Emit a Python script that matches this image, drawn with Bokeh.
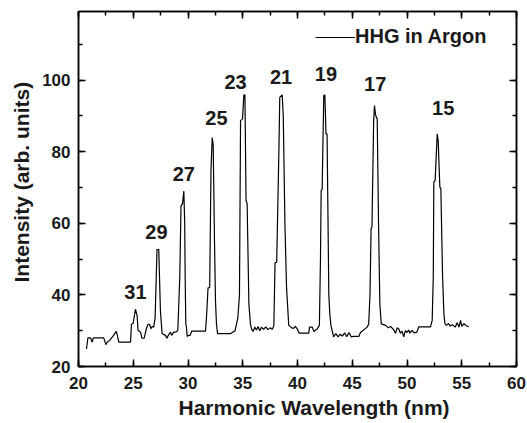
from bokeh.plotting import figure
from bokeh.models import (ColumnDataSource, Range1d, LinearAxis, SingleIntervalTicker,
                          Legend, LegendItem, Title, CustomLabelingPolicy)
from bokeh.core.properties import value
from bokeh.embed import file_html
from bokeh.resources import INLINE

# HHG spectrum in argon: wavelength (nm) vs. intensity (arb. units)
wavelength = [
    20.73, 20.86, 21.10, 21.25, 21.35, 22.30, 22.38, 22.50, 22.62, 22.85,
    23.20, 23.45, 23.55, 23.68, 24.75, 24.84, 24.99, 25.20, 25.35, 25.44,
    25.66, 25.80, 26.00, 26.20, 26.35, 26.50, 26.60, 26.75, 26.87, 27.00,
    27.17, 27.33, 27.48, 27.63, 27.93, 28.08, 28.20, 28.40, 28.50, 28.70,
    28.90, 29.07, 29.25, 29.36, 29.50, 29.62, 29.70, 29.74, 29.80, 29.86,
    29.93, 30.05, 30.20, 30.35, 31.60, 31.70, 31.83, 31.98, 32.10, 32.21,
    32.30, 32.42, 32.51, 32.60, 32.70, 33.90, 34.30, 34.55, 34.70, 34.80,
    34.98, 35.10, 35.20, 35.30, 35.40, 35.56, 35.70, 35.80, 35.95, 36.10,
    36.25, 36.40, 36.55, 36.70, 36.90, 37.10, 37.30, 37.50, 37.70, 37.84,
    37.95, 38.10, 38.30, 38.38, 38.60, 38.70, 38.85, 39.00, 39.20, 39.40,
    39.60, 39.80, 40.00, 40.15, 41.03, 41.10, 41.35, 41.50, 41.65, 41.80,
    42.00, 42.10, 42.16, 42.25, 42.40, 42.50, 42.60, 42.70, 42.86, 42.95,
    43.05, 43.30, 43.50, 43.70, 43.90, 44.10, 44.30, 44.50, 44.70, 44.90,
    45.10, 45.60, 45.75, 46.36, 46.50, 46.62, 46.72, 46.80, 46.95, 47.03,
    47.12, 47.20, 47.28, 47.40, 47.52, 47.65, 48.04, 48.30, 48.50, 48.80,
    48.95, 49.10, 49.25, 49.40, 49.55, 49.70, 49.85, 50.00, 50.15, 50.26,
    50.45, 50.65, 50.90, 51.08, 52.15, 52.30, 52.40, 52.45, 52.57, 52.76,
    52.85, 53.00, 53.09, 53.25, 53.37, 53.47, 53.60, 53.80, 53.95, 54.15,
    54.40, 54.58, 54.75, 54.89, 55.00, 55.20, 55.40, 55.65,
]
intensity = [
    24.9, 28.0, 28.0, 26.8, 28.0, 28.0, 27.3, 26.1, 26.8, 27.3,
    28.7, 29.8, 28.7, 26.8, 26.8, 31.8, 32.0, 36.0, 34.3, 30.1,
    29.6, 27.9, 27.9, 30.6, 31.8, 31.8, 30.6, 31.2, 31.0, 33.8,
    52.7, 52.7, 35.7, 29.2, 28.7, 27.9, 28.7, 29.6, 28.7, 29.6,
    29.6, 30.1, 45.0, 64.9, 65.5, 69.0, 60.0, 45.0, 32.0, 30.9,
    28.4, 28.7, 28.7, 29.9, 29.9, 34.3, 42.0, 42.0, 75.0, 84.0,
    82.0, 55.0, 38.4, 31.9, 29.2, 29.2, 30.0, 33.5, 40.0, 88.7,
    89.2, 95.9, 95.9, 66.4, 65.5, 37.5, 31.9, 30.5, 29.8, 31.0,
    30.2, 31.2, 30.0, 31.0, 30.4, 31.1, 30.3, 30.8, 30.4, 31.4,
    49.0, 49.1, 80.0, 95.2, 95.9, 90.0, 60.0, 42.1, 31.5, 31.0,
    30.6, 31.2, 30.4, 29.3, 29.3, 31.0, 31.0, 29.8, 30.2, 30.5,
    31.5, 50.5, 69.2, 69.5, 95.7, 95.9, 85.0, 85.0, 40.0, 34.7,
    31.5, 28.3, 29.2, 28.3, 29.0, 28.5, 29.4, 28.3, 29.5, 28.3,
    28.4, 28.4, 29.5, 31.0, 31.9, 40.0, 58.5, 59.0, 88.0, 92.9,
    90.5, 89.6, 89.2, 60.0, 37.5, 31.9, 31.5, 30.8, 31.2, 30.2,
    29.3, 30.8, 30.5, 29.3, 29.9, 28.3, 30.0, 29.5, 30.2, 29.3,
    30.1, 29.4, 29.6, 31.1, 31.1, 32.9, 45.0, 71.5, 72.0, 85.0,
    83.0, 70.1, 69.8, 45.0, 34.7, 31.9, 31.5, 32.0, 31.3, 31.7,
    31.0, 32.2, 31.0, 32.9, 31.2, 32.0, 31.4, 31.1,
]

# Harmonic order labels placed above each peak
order_labels = ["31", "29", "27", "25", "23", "21", "19", "17", "15"]
order_x = [25.2, 27.12, 29.62, 32.6, 34.34, 38.5, 42.6, 47.1, 53.3]
order_y = [40.8, 57.5, 73.8, 89.4, 99.4, 100.9, 101.6, 98.9, 92.2]

FONT = "Liberation Sans"
INK = "#1a1a1a"

p = figure(
    frame_width=438, frame_height=355,
    x_range=Range1d(20, 60), y_range=Range1d(20, 119.2),
    output_backend="svg", toolbar_location=None,
    min_border_left=78, min_border_right=11, min_border_top=11, min_border_bottom=0,
)
p.background_fill_color = "white"
p.border_fill_color = "white"
p.grid.visible = False
p.outline_line_color = "black"
p.outline_line_width = 1.5

src = ColumnDataSource(dict(x=wavelength, y=intensity))
line = p.line("x", "y", source=src, line_color="black", line_width=1.2)

lab_src = ColumnDataSource(dict(x=order_x, y=order_y, t=order_labels))
p.text("x", "y", text="t", source=lab_src, text_align="center", text_baseline="middle",
       text_font=value(FONT), text_font_style="bold", text_font_size="20px",
       text_color=INK)

p.xaxis.ticker = SingleIntervalTicker(interval=5, num_minor_ticks=2)
p.yaxis.ticker = SingleIntervalTicker(interval=20, num_minor_ticks=2)


def style_ticks(ax):
    ax.axis_line_width = 1.5
    ax.major_tick_in = 7
    ax.major_tick_out = 0
    ax.minor_tick_in = 4
    ax.minor_tick_out = 0
    ax.major_tick_line_width = 1.5
    ax.minor_tick_line_width = 1.5


for ax in (p.xaxis[0], p.yaxis[0]):
    style_ticks(ax)
    ax.major_label_text_font = FONT
    ax.major_label_text_font_style = "bold"
    ax.major_label_text_font_size = "17px"
    ax.major_label_text_color = INK
p.xaxis.major_label_standoff = 10
p.yaxis.major_label_standoff = 8

# Axis titles, shifted along their axes
xtitle = Title(text="Harmonic Wavelength (nm)", align="left", offset=100,
               text_font=FONT, text_font_style="bold", text_font_size="21px",
               text_color=INK, standoff=4)
ytitle = Title(text="Intensity (arb. units)", align="left", offset=84,
               text_font=FONT, text_font_style="bold", text_font_size="21px",
               text_color=INK, standoff=13)
p.add_layout(xtitle, "below")
p.add_layout(ytitle, "left")

# Mirrored ticks on the top and right edges, without labels
hide_labels = CustomLabelingPolicy(
    code="try { return new indices.constructor(indices.size, 0) } catch (e) { return indices }")
top = LinearAxis(ticker=SingleIntervalTicker(interval=5, num_minor_ticks=2))
right = LinearAxis(ticker=SingleIntervalTicker(interval=20, num_minor_ticks=2))
for ax in (top, right):
    style_ticks(ax)
    ax.major_label_policy = hide_labels
    ax.major_label_text_font_size = "1px"
    ax.major_label_standoff = 0
p.add_layout(top, "above")
p.add_layout(right, "right")

legend = Legend(items=[LegendItem(label="HHG in Argon", renderers=[line])],
                location=(237, 318))
legend.border_line_color = None
legend.background_fill_alpha = 0
legend.label_text_font = FONT
legend.label_text_font_style = "bold"
legend.label_text_font_size = "20px"
legend.label_text_color = INK
legend.glyph_width = 40
legend.label_standoff = 0
legend.padding = 0
legend.margin = 0
legend.spacing = 0
p.add_layout(legend)

open("out.html", "w").write(file_html(p, INLINE))
